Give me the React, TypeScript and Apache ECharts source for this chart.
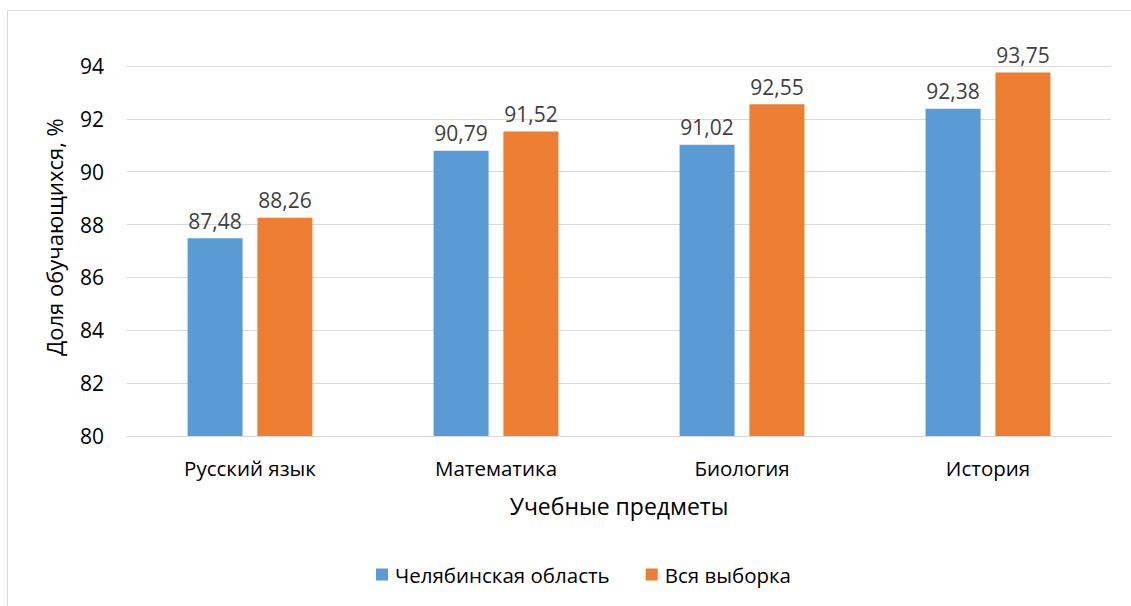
import React, { useEffect, useRef } from "react";
import * as echarts from "echarts";

const categories = ["Русский язык", "Математика", "Биология", "История"];
const chelyabinsk = [87.48, 90.79, 91.02, 92.38];
const allSample = [88.26, 91.52, 92.55, 93.75];
const seriesNames = ["Челябинская область", "Вся выборка"];

export default function App() {
  const ref = useRef<HTMLDivElement>(null);
  useEffect(() => {
    document.body.style.margin = "0";
    const chart = echarts.init(ref.current!, null, { renderer: "svg" });
    const font = "'Open Sans', sans-serif";
    const lbl = {
      show: true,
      position: "top",
      distance: 7,
      color: "#404040",
      fontSize: 21,
      fontFamily: font,
      formatter: (p: any) => p.value.toFixed(2).replace(".", ","),
    };
    chart.setOption({
      animation: false,
      graphic: [
        {
          type: "rect",
          shape: { x: 7.5, y: 10.5, width: 1140, height: 620 },
          style: { fill: "none", stroke: "#d9d9d9", lineWidth: 1 },
          silent: true,
        },
      ],
      grid: { left: 127, right: 20, top: 66, bottom: 170, containLabel: false },
      legend: {
        bottom: 16,
        left: 371,
        itemWidth: 12,
        itemHeight: 12,
        itemGap: 36,
        icon: "rect",
        textStyle: { fontSize: 20.5, color: "#000000", fontFamily: font, padding: [0, 0, 0, 2] },
        data: seriesNames,
      },
      xAxis: {
        type: "category",
        data: categories,
        name: "Учебные предметы",
        nameLocation: "middle",
        nameGap: 58,
        nameTextStyle: { fontSize: 23, color: "#000000", fontFamily: font },
        axisLine: { lineStyle: { color: "#d9d9d9" } },
        axisTick: { show: false },
        axisLabel: { fontSize: 20.5, color: "#000000", fontFamily: font, margin: 21 },
      },
      yAxis: {
        type: "value",
        min: 80,
        max: 94,
        interval: 2,
        name: "Доля обучающихся, %",
        nameLocation: "middle",
        nameGap: 62,
        nameTextStyle: { fontSize: 22, color: "#000000", fontFamily: font, padding: [0, 0, 0, 28] },
        axisLine: { show: false },
        axisTick: { show: false },
        splitLine: { lineStyle: { color: "#d9d9d9" } },
        axisLabel: { fontSize: 21, color: "#000000", fontFamily: font, margin: 23 },
      },
      series: [
        {
          name: seriesNames[0],
          type: "bar",
          data: chelyabinsk,
          itemStyle: { color: "#5b9bd5" },
          barWidth: 55,
          barGap: "27%",
          label: lbl,
        },
        {
          name: seriesNames[1],
          type: "bar",
          data: allSample,
          itemStyle: { color: "#ed7d31" },
          barWidth: 55,
          label: lbl,
        },
      ],
    });
    return () => chart.dispose();
  }, []);
  return <div ref={ref} style={{ width: 1131, height: 606 }} />;
}
